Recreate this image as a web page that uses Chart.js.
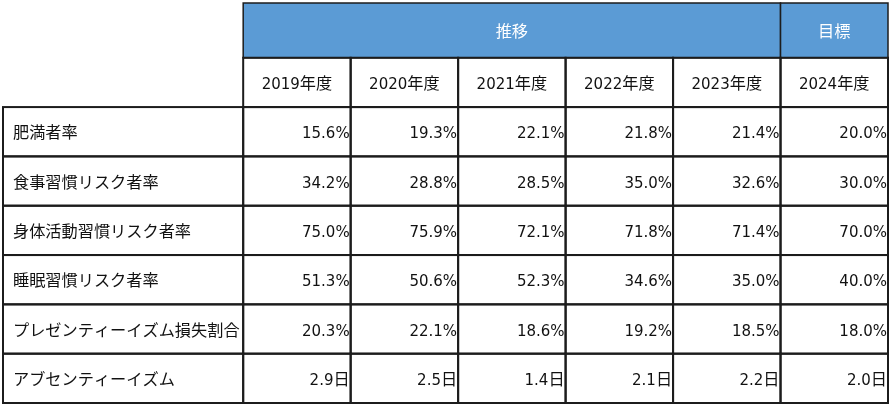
<!DOCTYPE html>
<html><head><meta charset="utf-8">
<script src="https://cdn.jsdelivr.net/npm/chart.js@4.4.1/dist/chart.umd.min.js"></script>
<style>html,body{margin:0;padding:0;background:#fff}#wrap{width:892px;height:407px;position:relative}</style>
</head><body><div id="wrap"><canvas id="c"></canvas></div>
<script>
// ---- data ----
const groupHeaders = ['推移', '目標'];
const groupSpans = [5, 1];
const years = ['2019年度', '2020年度', '2021年度', '2022年度', '2023年度', '2024年度'];
const rowLabels = ['肥満者率', '食事習慣リスク者率', '身体活動習慣リスク者率', '睡眠習慣リスク者率', 'プレゼンティーイズム損失割合', 'アブセンティーイズム'];
const obesityRate = [15.6, 19.3, 22.1, 21.8, 21.4, 20.0];
const dietRiskRate = [34.2, 28.8, 28.5, 35.0, 32.6, 30.0];
const activityRiskRate = [75.0, 75.9, 72.1, 71.8, 71.4, 70.0];
const sleepRiskRate = [51.3, 50.6, 52.3, 34.6, 35.0, 40.0];
const presenteeismLoss = [20.3, 22.1, 18.6, 19.2, 18.5, 18.0];
const absenteeismDays = [2.9, 2.5, 1.4, 2.1, 2.2, 2.0];
const rowUnits = ['%', '%', '%', '%', '%', '日'];
const rowValues = [obesityRate, dietRiskRate, activityRiskRate, sleepRiskRate, presenteeismLoss, absenteeismDays];

// ---- layout (scale units) ----
const firstColW = 2.235;          // label column width relative to a year column
const headRowH = 1.11;            // top header row height relative to a data row
const colEdges = [0, firstColW];
for (let i = 0; i < years.length; i++) colEdges.push(firstColW + i + 1);
const rowEdges = [0, headRowH];
for (let i = 0; i < rowLabels.length + 1; i++) rowEdges.push(headRowH + i + 1);

const LATIN_FONT = '15px "DejaVu Sans", sans-serif';
const CJK_FONT = '16.2px "Noto Sans CJK JP", sans-serif';
const LINE = '#1c1c1c';
const BLUE = '#5b9bd5';

function runs(str) {
  return (str.match(/[\u3000-\u9fff\uff00-\uffef]+|[^\u3000-\u9fff\uff00-\uffef]+/g) || [])
    .map(s => ({ s, cjk: /[\u3000-\u9fff\uff00-\uffef]/.test(s) }));
}
function drawMixed(ctx, str, x, yCenter, align, color) {
  const rs = runs(str);
  let w = 0;
  rs.forEach(r => { ctx.font = r.cjk ? CJK_FONT : LATIN_FONT; r.w = ctx.measureText(r.s).width; w += r.w; });
  let cx = align === 'left' ? x : align === 'right' ? x - w : x - w / 2;
  ctx.textAlign = 'left'; ctx.textBaseline = 'alphabetic'; ctx.fillStyle = color;
  const base = yCenter + 6.5;
  rs.forEach(r => { ctx.font = r.cjk ? CJK_FONT : LATIN_FONT; ctx.fillText(r.s, cx, base); cx += r.w; });
}

const tablePlugin = {
  id: 'table',
  afterDraw(chart) {
    const ctx = chart.ctx, xs = chart.scales.x, ys = chart.scales.y;
    const X = v => xs.getPixelForValue(v), Y = v => ys.getPixelForValue(v);
    ctx.save();
    let c = 1;
    groupHeaders.forEach((g, gi) => {
      const x0 = X(colEdges[c]), x1 = X(colEdges[c + groupSpans[gi]]);
      const y0 = Y(rowEdges[0]), y1 = Y(rowEdges[1]);
      ctx.fillStyle = BLUE; ctx.fillRect(x0, y0, x1 - x0, y1 - y0);
      drawMixed(ctx, g, (x0 + x1) / 2, (y0 + y1) / 2, 'center', '#ffffff');
      ctx.strokeStyle = LINE; ctx.lineWidth = 1.5;
      ctx.strokeRect(x0, y0, x1 - x0, y1 - y0);
      c += groupSpans[gi];
    });
    ctx.lineWidth = 2; ctx.strokeStyle = LINE;
    years.forEach((yr, i) => {
      const x0 = X(colEdges[i + 1]), x1 = X(colEdges[i + 2]);
      const y0 = Y(rowEdges[1]), y1 = Y(rowEdges[2]);
      ctx.strokeRect(x0, y0, x1 - x0, y1 - y0);
      drawMixed(ctx, yr, (x0 + x1) / 2, (y0 + y1) / 2, 'center', '#111');
    });
    rowLabels.forEach((lab, r) => {
      const y0 = Y(rowEdges[r + 2]), y1 = Y(rowEdges[r + 3]);
      const lx0 = X(colEdges[0]), lx1 = X(colEdges[1]);
      ctx.strokeRect(lx0, y0, lx1 - lx0, y1 - y0);
      drawMixed(ctx, lab, lx0 + 10, (y0 + y1) / 2, 'left', '#111');
      rowValues[r].forEach((v, i) => {
        const x0 = X(colEdges[i + 1]), x1 = X(colEdges[i + 2]);
        ctx.strokeRect(x0, y0, x1 - x0, y1 - y0);
        drawMixed(ctx, v.toFixed(1) + rowUnits[r], x1 - 1, (y0 + y1) / 2, 'right', '#111');
      });
    });
    ctx.restore();
  }
};

new Chart(document.getElementById('c'), {
  type: 'scatter',
  data: { datasets: [{ data: [], pointRadius: 0 }] },
  options: {
    responsive: true, maintainAspectRatio: false, animation: false,
    layout: { padding: { left: 3, top: 3, right: 4, bottom: 4 } },
    plugins: { legend: { display: false }, tooltip: { enabled: false } },
    scales: {
      x: { type: 'linear', min: 0, max: colEdges[colEdges.length - 1], display: false },
      y: { type: 'linear', min: 0, max: rowEdges[rowEdges.length - 1], reverse: true, display: false }
    }
  },
  plugins: [tablePlugin]
});
</script></body></html>
